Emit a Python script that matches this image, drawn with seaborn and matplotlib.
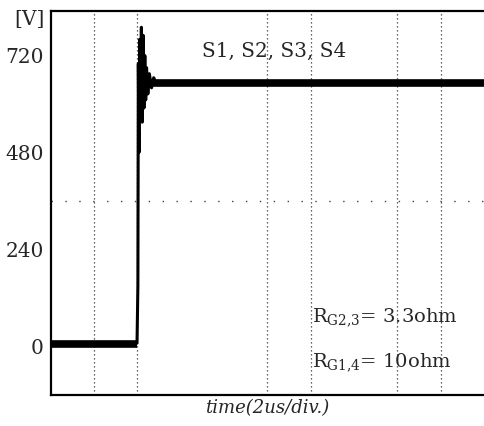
import numpy as np
import pandas as pd
import matplotlib
matplotlib.use("Agg")
import matplotlib.pyplot as plt
import seaborn as sns

# switching waveform (time in us, voltage in V)
time_us = [0.0, 3.98, 4.02, 4.04, 4.07, 4.10, 4.14, 4.18, 4.22, 4.26, 4.30,
           4.34, 4.38, 4.42, 4.48, 4.55, 4.65, 4.75, 4.90, 20.0]
volts = [5, 8, 150, 700, 480, 760, 560, 790, 555, 770, 590,
         720, 610, 690, 625, 675, 640, 665, 648, 652]

# flat (noisy) parts of the trace, drawn as thick bands
low_t = [0.0, 4.0]
low_v = [5, 5]
high_t = [4.45, 20.0]
high_v = [652, 652]

ytick_vals = [0, 240, 480, 720]
grid_t = [2, 4, 10, 12, 16, 18]
grid_v = 360

sns.set_style("white")
plt.rcParams['font.family'] = ['DejaVu Serif']
plt.rcParams['mathtext.fontset'] = 'dejavuserif'

fig = plt.figure(figsize=(4.84, 4.26), dpi=100)
ax = fig.add_axes([0.105, 0.073, 0.895, 0.901])

# dotted scope graticule
for t in grid_t:
    ax.axvline(t, color="#333333", lw=0.9, ls=(0, (1, 2.2)), zorder=1)
ax.axhline(grid_v, color="#444444", lw=1.0, ls=(0, (1, 9)), zorder=1)

df = pd.DataFrame({"t": time_us, "v": volts})
sns.lineplot(data=df, x="t", y="v", ax=ax, color="black", lw=2.2,
             sort=False, estimator=None, zorder=3)
sns.lineplot(x=low_t, y=low_v, ax=ax, color="black", lw=5.5, zorder=3,
             solid_capstyle="butt")
sns.lineplot(x=high_t, y=high_v, ax=ax, color="black", lw=5.5, zorder=3,
             solid_capstyle="butt")

ax.set_xlim(0, 20)
ax.set_ylim(-120, 830)
ax.set_xticks([])
ax.set_yticks(ytick_vals)
ax.set_yticklabels([str(v) for v in ytick_vals], fontsize=14.5)
ax.tick_params(axis="y", length=0, pad=5)
ax.set_ylabel("")
ax.set_xlabel("time(2us/div.)", fontsize=13, style="italic", labelpad=3)
ax.text(-0.015, 808, "[V]", ha="right", va="center", fontsize=14.5,
        transform=ax.get_yaxis_transform())

for side in ["left", "bottom", "top"]:
    ax.spines[side].set_color("black")
    ax.spines[side].set_linewidth(1.6)
ax.spines["right"].set_visible(False)

ax.text(7.0, 729, "S1, S2, S3, S4", fontsize=14.4, va="center", ha="left")
ax.text(12.05, 71, r"R$_{\mathregular{G2{,}3}}$= 3.3ohm", fontsize=14,
        va="center", ha="left")
ax.text(12.05, -40, r"R$_{\mathregular{G1{,}4}}$= 10ohm", fontsize=14,
        va="center", ha="left")

fig.savefig("out.png", dpi=100)
